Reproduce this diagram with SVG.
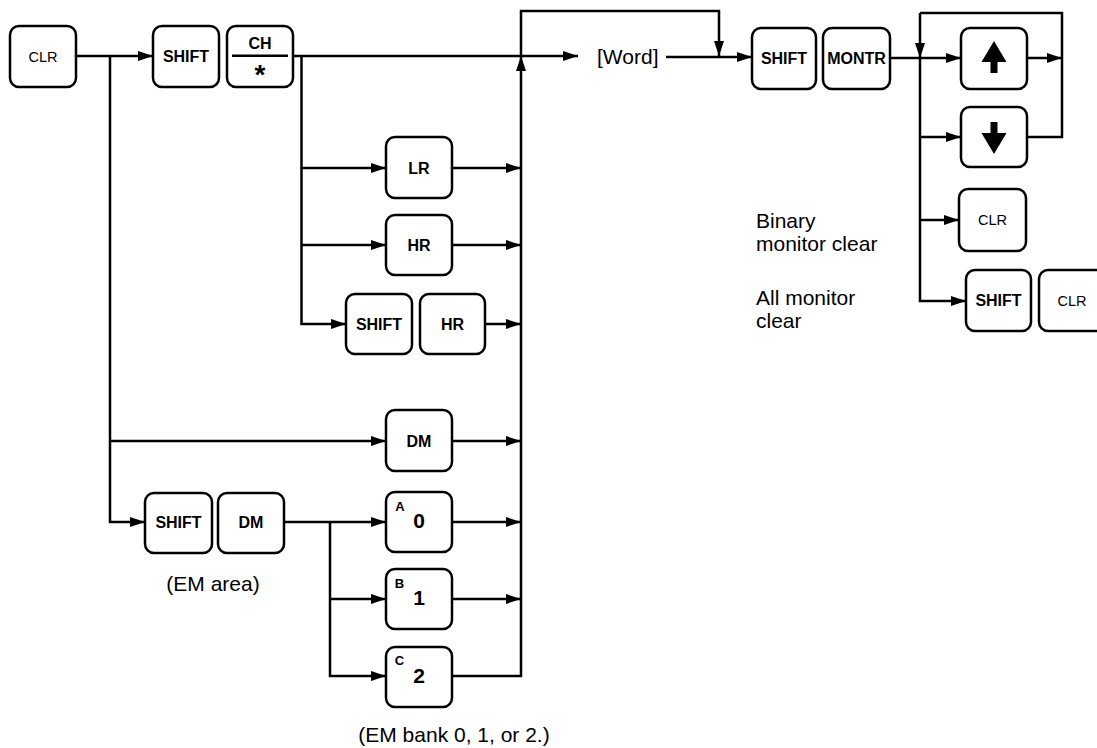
<svg xmlns="http://www.w3.org/2000/svg" width="1097" height="748" viewBox="0 0 1097 748">
<style>
.key{fill:#fff;stroke:#000;stroke-width:2.5}
.kb{font-family:"Liberation Sans",Arial,sans-serif;font-weight:bold;font-size:16px;text-anchor:middle;fill:#000}
.kn{font-family:"Liberation Sans",Arial,sans-serif;font-size:14.5px;text-anchor:middle;fill:#000}
.dig{font-family:"Liberation Sans",Arial,sans-serif;font-weight:bold;font-size:21px;text-anchor:middle;fill:#000}
.sup{font-family:"Liberation Sans",Arial,sans-serif;font-weight:bold;font-size:13px;text-anchor:middle;fill:#000}
.lbl{font-family:"Liberation Sans",Arial,sans-serif;font-size:21px;fill:#000}
.c{fill:none;stroke:#000;stroke-width:2.5}
.a{marker-end:url(#ah)}
</style>
<defs>
<marker id="ah" markerUnits="userSpaceOnUse" markerWidth="16" markerHeight="11" refX="15" refY="5" orient="auto">
<path d="M0,0 L15,5 L0,10 z" fill="#000"/>
</marker>
</defs>
<rect width="1097" height="748" fill="#fff"/>
<g id="connectors">
<path class="c a" d="M76,56 H153"/>
<path class="c a" d="M110,56 V522 H145"/>
<path class="c a" d="M110,441 H386"/>
<path class="c a" d="M293,56 H578"/>
<path class="c a" d="M301.5,56 V324 H346"/>
<path class="c a" d="M301.5,168 H386"/>
<path class="c a" d="M301.5,245 H386"/>
<path class="c a" d="M452,168 H521"/>
<path class="c a" d="M452,245 H521"/>
<path class="c a" d="M485,324 H521"/>
<path class="c a" d="M452,441 H521"/>
<path class="c a" d="M452,522 H521"/>
<path class="c a" d="M452,599 H521"/>
<path class="c a" d="M452,676 H521 V56"/>
<path class="c a" d="M521,56 V11 H719 V56"/>
<path class="c a" d="M284,522 H386"/>
<path class="c a" d="M330,522 V676 H386"/>
<path class="c a" d="M330,599 H386"/>
<path class="c a" d="M666,57 H752"/>
<path class="c a" d="M890,58 H961"/>
<path class="c a" d="M920,13 V58"/>
<path class="c a" d="M920,58 V301 H966"/>
<path class="c a" d="M920,137 H961"/>
<path class="c a" d="M920,220 H959"/>
<path class="c" d="M920,13 H1062 V137 H1027"/>
<path class="c a" d="M1027,58 H1062"/>
</g>
<g id="clr1"><rect class="key" x="10" y="26" width="66" height="61" rx="9"/><text class="kn" x="43" y="61.5">CLR</text></g>
<g id="shift1"><rect class="key" x="153" y="26" width="66" height="61" rx="9"/><text class="kb" x="186" y="62">SHIFT</text></g>
<g id="ch"><rect class="key" x="227" y="26" width="66" height="61" rx="9"/><text class="kb" x="260" y="49">CH</text><line x1="232" y1="55.7" x2="288" y2="55.7" stroke="#000" stroke-width="2.5"/><text class="kb" style="font-size:28px" x="260" y="84">*</text></g>
<g id="lr"><rect class="key" x="386" y="137" width="66" height="61" rx="9"/><text class="kb" x="419" y="173.5">LR</text></g>
<g id="hr1"><rect class="key" x="386" y="215" width="66" height="60" rx="9"/><text class="kb" x="419" y="250.5">HR</text></g>
<g id="shift2"><rect class="key" x="346" y="294" width="66" height="60" rx="9"/><text class="kb" x="379" y="329.5">SHIFT</text></g>
<g id="hr2"><rect class="key" x="420" y="294" width="65" height="60" rx="9"/><text class="kb" x="452.5" y="329.5">HR</text></g>
<g id="dm1"><rect class="key" x="386" y="410" width="66" height="61" rx="9"/><text class="kb" x="419" y="446.5">DM</text></g>
<g id="shift3"><rect class="key" x="145" y="493" width="67" height="60" rx="9"/><text class="kb" x="178.5" y="528">SHIFT</text></g>
<g id="dm2"><rect class="key" x="218" y="493" width="66" height="60" rx="9"/><text class="kb" x="251" y="528">DM</text></g>
<g id="k0"><rect class="key" x="386" y="492" width="66" height="60" rx="9"/><text class="sup" x="400" y="511">A</text><text class="dig" x="419" y="528">0</text></g>
<g id="k1"><rect class="key" x="386" y="569" width="66" height="60" rx="9"/><text class="sup" x="399.5" y="588">B</text><text class="dig" x="419" y="605">1</text></g>
<g id="k2"><rect class="key" x="386" y="647" width="66" height="60" rx="9"/><text class="sup" x="399.5" y="665">C</text><text class="dig" x="419" y="683">2</text></g>
<g id="word"><text class="lbl" x="597" y="63.5">[Word]</text></g>
<g id="shift4"><rect class="key" x="752" y="28" width="64" height="61" rx="9"/><text class="kb" x="784" y="64">SHIFT</text></g>
<g id="montr"><rect class="key" x="823" y="28" width="67" height="61" rx="9"/><text class="kb" x="856.5" y="64">MONTR</text></g>
<g id="up"><rect class="key" x="961" y="28" width="66" height="61" rx="9"/><polygon points="994,41 1006.5,62 997.5,62 997.5,73 990.5,73 990.5,62 981.5,62" fill="#000"/></g>
<g id="down"><rect class="key" x="961" y="107" width="66" height="60" rx="9"/><polygon points="990.5,122 997.5,122 997.5,133 1006.5,133 994,154 981.5,133 990.5,133" fill="#000"/></g>
<g id="clr2"><rect class="key" x="959" y="189" width="67" height="62" rx="9"/><text class="kn" x="992.5" y="225">CLR</text></g>
<g id="shift5"><rect class="key" x="966" y="270" width="65" height="61" rx="9"/><text class="kb" x="998.5" y="306">SHIFT</text></g>
<g id="clr3"><rect class="key" x="1039" y="270" width="66" height="61" rx="9"/><text class="kn" x="1072" y="305.5">CLR</text></g>
<g id="labels">
<text class="lbl" x="756" y="228">Binary</text>
<text class="lbl" x="756" y="251">monitor clear</text>
<text class="lbl" x="756" y="305">All monitor</text>
<text class="lbl" x="756" y="328">clear</text>
<text class="lbl" x="213" y="591" text-anchor="middle">(EM area)</text>
<text class="lbl" x="454" y="742" text-anchor="middle">(EM bank 0, 1, or 2.)</text>
</g>
</svg>
